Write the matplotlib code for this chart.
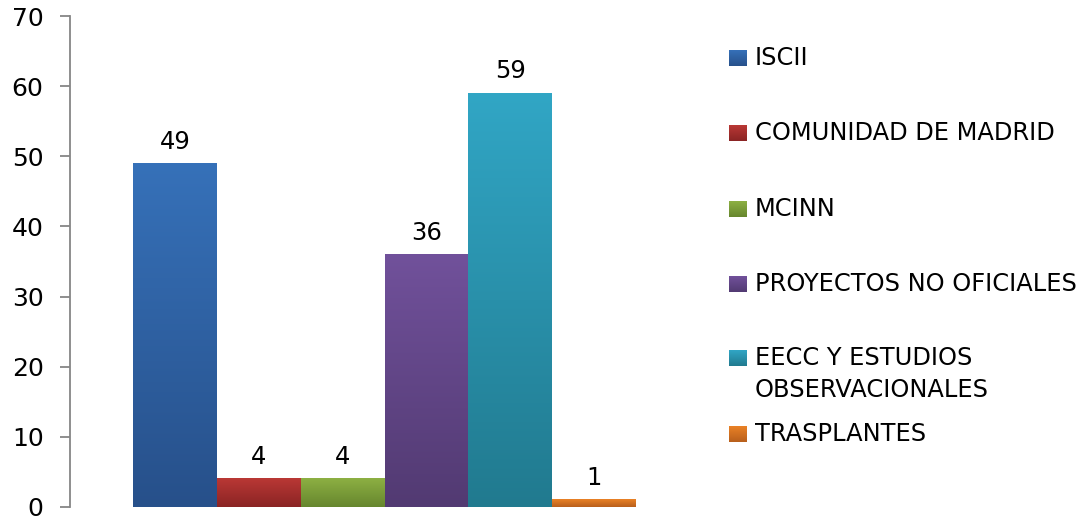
import matplotlib
matplotlib.use('Agg')
import matplotlib.pyplot as plt
import numpy as np
from matplotlib.colors import LinearSegmentedColormap

categories = ['ISCII', 'COMUNIDAD DE MADRID', 'MCINN', 'PROYECTOS NO OFICIALES',
              'EECC Y ESTUDIOS\nOBSERVACIONALES', 'TRASPLANTES']
values = [49, 4, 4, 36, 59, 1]
topColors = ['#3671B9', '#BA3835', '#8DB043', '#71519B', '#31A6C5', '#EA8226']
bottomColors = ['#27508A', '#8A2424', '#66862E', '#523A72', '#217A8F', '#B85F1C']
legendY = [58, 133, 209, 284, 358, 434]

fig = plt.figure(figsize=(10.9, 5.19), dpi=100)
ax = fig.add_axes([70/1090, 1 - 507/519, 629/1090, 491/519])
grad = np.linspace(0, 1, 256).reshape(-1, 1)

for i, v in enumerate(values):
    cmap = LinearSegmentedColormap.from_list('g%d' % i, [bottomColors[i], topColors[i]])
    ax.imshow(grad, cmap=cmap, origin='lower', aspect='auto',
              extent=[i - 0.5, i + 0.5, 0, v], zorder=2)
    ax.annotate(str(v), (i, v), xytext=(0, 7), textcoords='offset points',
                ha='center', va='bottom', fontsize=17.5, color='black')

ax.set_xlim(-1.25, 6.25)
ax.set_ylim(0, 70)
ax.set_yticks(range(0, 71, 10))
ax.set_xticks([])
for s in ['top', 'right', 'bottom']:
    ax.spines[s].set_visible(False)
ax.spines['left'].set_color('#868686')
ax.spines['left'].set_linewidth(1.3)
ax.tick_params(axis='y', colors='#868686', length=7, width=1.3, pad=12,
               labelsize=18, labelcolor='black')

# legend drawn by hand
for i, name in enumerate(categories):
    y = legendY[i]
    cmap = LinearSegmentedColormap.from_list('l%d' % i, [bottomColors[i], topColors[i]])
    lax = fig.add_axes([729/1090, 1 - (y + 8)/519, 18/1090, 16/519])
    lax.imshow(grad, cmap=cmap, origin='lower', aspect='auto', extent=[0, 1, 0, 1])
    lax.set_axis_off()
    lines = name.split('\n')
    for j, line in enumerate(lines):
        fig.text(755/1090, 1 - (y + j*32)/519, line, fontsize=17.4, va='center',
                 ha='left', color='black')

fig.savefig('out.png', dpi=100)
